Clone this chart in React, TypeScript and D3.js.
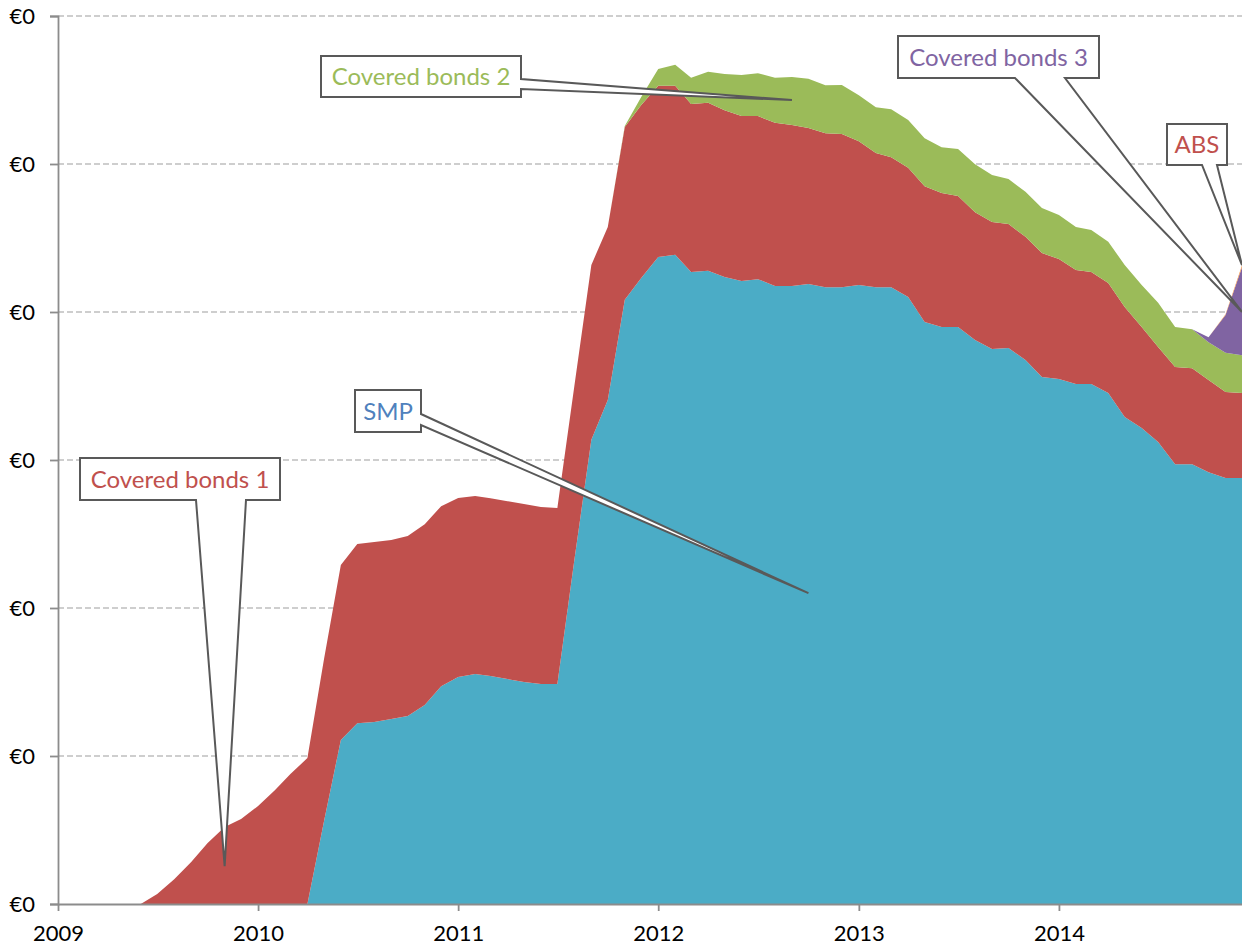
import { useEffect, useRef } from "react";
import * as d3 from "d3";

const W = 1242;
const H = 947;
const margin = { top: 16, right: 0, bottom: 43, left: 58 };

// monthly observations, Jan 2009 .. Dec 2014 (values in € bn)
const firstMonth = new Date(Date.UTC(2009, 0, 1));
const lastMonth = new Date(Date.UTC(2014, 11, 1));
const months = d3.utcMonth.range(firstMonth, d3.utcMonth.offset(lastMonth, 1));

const keys = ["smp", "cb1", "cb2", "cb3", "abs"];

// each series starts at the given month index (zero before)
const smpStart = 15;
const smp = [
  0, 27.7, 55.4, 61.1, 61.5, 62.5, 63.5, 67.2, 73.6, 76.7, 77.7, 77.0, 76.0,
  75.0, 74.3, 74.3, 116.2, 156.8, 170.3, 204.1, 211.5, 218.6, 219.3, 213.5,
  213.9, 211.8, 210.5, 211.1, 208.8, 208.8, 209.5, 208.4, 208.4, 209.1, 208.4,
  208.4, 205.1, 196.6, 194.9, 194.9, 190.5, 187.5, 187.8, 183.8, 178.0, 177.4,
  175.7, 175.7, 172.6, 164.5, 160.8, 156.1, 148.6, 148.6, 145.9, 143.9, 143.9,
];

const cb1Start = 5;
const cb1 = [
  0, 3.4, 8.4, 14.2, 20.6, 26.0, 28.7, 33.1, 38.5, 43.9, 49.3, 54.7, 59.1,
  60.5, 60.8, 60.5, 60.8, 61.1, 60.8, 60.5, 60.1, 60.1, 60.1, 60.1, 59.8, 59.5,
  58.8, 59.1, 58.4, 58.4, 58.4, 57.8, 57.1, 56.8, 56.8, 56.4, 55.7, 55.1, 55.1,
  54.4, 52.7, 52.0, 51.7, 48.6, 45.3, 43.9, 43.6, 45.9, 45.3, 44.3, 43.2, 42.9,
  41.9, 41.6, 41.9, 40.5, 38.5, 37.8, 37.2, 37.2, 34.1, 32.1, 32.8, 32.4, 31.1,
  29.1, 28.7,
];

const cb2Start = 33;
const cb2 = [
  0, 0.3, 2.7, 5.7, 7.1, 8.8, 10.5, 12.2, 13.9, 14.5, 15.2, 16.2, 16.6, 16.2,
  16.6, 15.5, 15.5, 16.2, 16.2, 16.2, 15.5, 15.9, 16.2, 15.9, 15.2, 15.2, 15.2,
  14.9, 14.5, 14.2, 13.9, 14.2, 14.2, 14.9, 13.5, 13.2, 12.8, 13.2, 12.8,
];

const cb3Start = 68;
const cb3 = [0, 1.7, 12.8, 29.7];

const absStart = 69;
const abs = [0, 0.2, 0.7];

const yTicks = [0, 50, 100, 150, 200, 250, 300];

const colors = {
  smp: "#4BACC6",
  cb1: "#C0504D",
  cb2: "#9BBB59",
  cb3: "#8064A2",
  abs: "#F79646",
};

// callout boxes (px) pointing at a spot in data space
const callouts = [
  { text: "SMP", color: "#4F81BD", box: [355, 390, 421, 432], side: "right", base: [414, 425], tip: [45, 105] },
  { text: "Covered bonds 1", color: "#C0504D", box: [80, 458, 280, 500], side: "bottom", base: [196, 246], tip: [10, 12.8] },
  { text: "Covered bonds 2", color: "#9BBB59", box: [321, 56, 521, 97], side: "right", base: [79, 89], tip: [44, 271.6] },
  { text: "Covered bonds 3", color: "#8064A2", box: [898, 36, 1099, 78], side: "bottom", base: [1015, 1065], tip: [71, 200] },
  { text: "ABS", color: "#C0504D", box: [1167, 124, 1227, 165], side: "bottom", base: [1202, 1217], tip: [71, 215.8] },
];

const valueAt = (arr, start, i) =>
  i < start ? 0 : i - start < arr.length ? arr[i - start] : 0;

const table = months.map((date, i) => ({
  date,
  smp: valueAt(smp, smpStart, i),
  cb1: valueAt(cb1, cb1Start, i),
  cb2: valueAt(cb2, cb2Start, i),
  cb3: valueAt(cb3, cb3Start, i),
  abs: valueAt(abs, absStart, i),
}));

const App = () => {
  const svgRef = useRef(null);

  useEffect(() => {
    const svg = d3.select(svgRef.current);
    svg.selectAll("*").remove();

    const x = d3
      .scaleUtc()
      .domain([firstMonth, lastMonth])
      .range([margin.left, W - margin.right]);
    const y = d3
      .scaleLinear()
      .domain([0, 300])
      .range([H - margin.bottom, margin.top]);

    // gridlines
    svg
      .append("g")
      .selectAll("line")
      .data(yTicks.filter((d) => d > 0))
      .join("line")
      .attr("x1", margin.left)
      .attr("x2", W - margin.right)
      .attr("y1", (d) => y(d))
      .attr("y2", (d) => y(d))
      .attr("stroke", "#BFBFBF")
      .attr("stroke-width", 1.3)
      .attr("stroke-dasharray", "6,3");

    // stacked areas
    const series = d3.stack().keys(keys)(table);
    const area = d3
      .area()
      .x((d) => x(d.data.date))
      .y0((d) => y(d[0]))
      .y1((d) => y(d[1]));

    svg
      .append("g")
      .selectAll("path")
      .data(series)
      .join("path")
      .attr("fill", (d) => colors[d.key])
      .attr("d", area);

    // y axis
    const yAxis = svg.append("g").attr("transform", `translate(${margin.left},0)`);
    yAxis
      .call(
        d3
          .axisLeft(y)
          .tickValues(yTicks)
          .tickSize(8)
          .tickPadding(15)
          .tickFormat((d) => `€${d3.format(",.0f")(d / 1000)}`)
      )
      .call((g) => g.select(".domain").attr("stroke", "#8C8C8C").attr("stroke-width", 1.8))
      .call((g) => g.selectAll(".tick line").attr("stroke", "#8C8C8C").attr("stroke-width", 1.8))
      .call((g) =>
        g
          .selectAll(".tick text")
          .attr("font-size", 22)
          .attr("font-family", "Lato")
          .attr("fill", "#000")
      );

    // x axis
    const xAxis = svg
      .append("g")
      .attr("transform", `translate(0,${H - margin.bottom})`);
    xAxis
      .call(
        d3
          .axisBottom(x)
          .ticks(d3.utcYear.every(1))
          .tickSize(7)
          .tickSizeOuter(0)
          .tickPadding(14)
          .tickFormat(d3.utcFormat("%Y"))
      )
      .call((g) => g.select(".domain").attr("stroke", "#8C8C8C").attr("stroke-width", 1.8))
      .call((g) => g.selectAll(".tick line").attr("stroke", "#8C8C8C").attr("stroke-width", 1.8))
      .call((g) =>
        g
          .selectAll(".tick text")
          .attr("font-size", 22)
          .attr("font-family", "Lato")
          .attr("fill", "#000")
      );

    // callouts
    const outline = (c) => {
      const [x0, y0, x1, y1] = c.box;
      const tx = x(months[c.tip[0]]);
      const ty = y(c.tip[1]);
      const [a, b] = c.base;
      if (c.side === "bottom") {
        return `M${x0},${y0}H${x1}V${y1}H${b}L${tx},${ty}L${a},${y1}H${x0}Z`;
      }
      return `M${x0},${y0}H${x1}V${a}L${tx},${ty}L${x1},${b}V${y1}H${x0}Z`;
    };

    const cg = svg
      .append("g")
      .selectAll("g")
      .data(callouts)
      .join("g");

    cg.append("path")
      .attr("d", outline)
      .attr("fill", "#fff")
      .attr("stroke", "#595959")
      .attr("stroke-width", 2)
      .attr("stroke-linejoin", "miter");

    cg.append("text")
      .attr("x", (c) => (c.box[0] + c.box[2]) / 2)
      .attr("y", (c) => (c.box[1] + c.box[3]) / 2)
      .attr("dy", "0.36em")
      .attr("text-anchor", "middle")
      .attr("font-family", "Lato")
      .attr("font-size", 24)
      .attr("fill", (c) => c.color)
      .text((c) => c.text);
  }, []);

  return (
    <svg
      ref={svgRef}
      width={W}
      height={H}
      style={{ position: "absolute", left: 0, top: 0, background: "#fff" }}
    />
  );
};

export default App;
